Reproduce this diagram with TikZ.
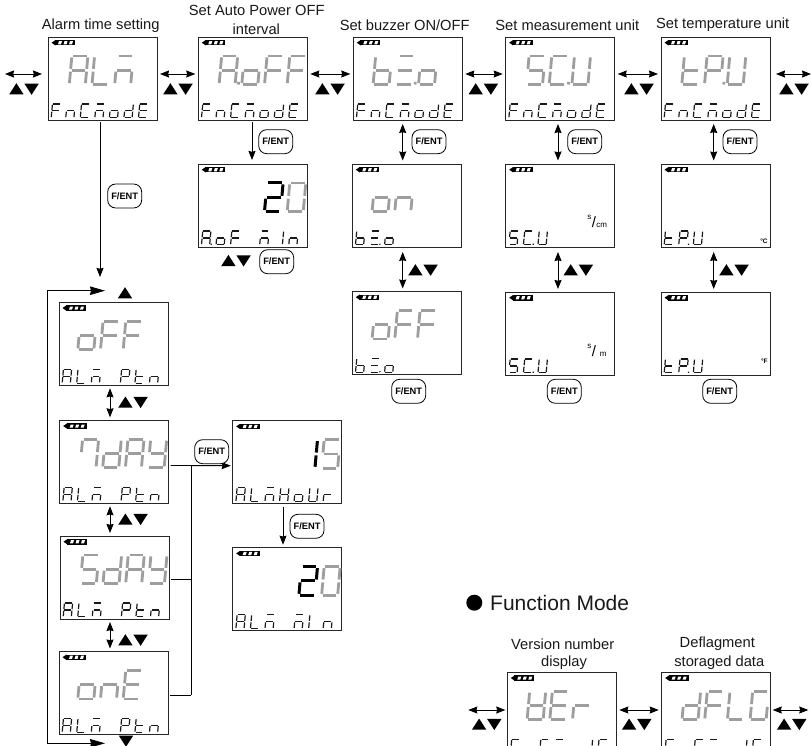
\documentclass[tikz,border=0pt]{standalone}
\usepackage{fontspec}
\setmainfont{Liberation Sans}
\usetikzlibrary{arrows.meta}
% seven-segment definitions
\newcommand{\defseg}[5]{\expandafter\def\csname seg-#1\endcsname{{#2}{#3}{#4}{#5}}}
\defseg{a}{.08}{0}{.92}{0}
\defseg{b}{1}{.05}{1}{.45}
\defseg{c}{1}{.55}{1}{.95}
\defseg{d}{.08}{1}{.92}{1}
\defseg{e}{0}{.55}{0}{.95}
\defseg{f}{0}{.05}{0}{.45}
\defseg{g}{.08}{.5}{.92}{.5}
\defseg{p}{1.2}{.91}{1.2}{1}
\defseg{x}{0}{0}{0}{0}
\newcommand{\defch}[2]{\expandafter\def\csname ch-#1\endcsname{#2}\expandafter\def\csname ch-#1.\endcsname{#2,p}}
\defch{A}{a,b,c,e,f,g}\defch{L}{d,e,f}\defch{M}{a,c,e,g}\defch{o}{c,d,e,g}\defch{F}{a,e,f,g}
\defch{b}{c,d,e,f,g}\defch{X}{a,d,g}\defch{S}{a,c,d,f,g}\defch{C}{a,d,e,f}\defch{U}{b,c,d,e,f}
\defch{t}{d,e,f,g}\defch{P}{a,b,e,f,g}\defch{n}{c,e,g}\defch{E}{a,d,e,f,g}\defch{d}{b,c,d,e,g}
\defch{7}{a,b,c,f}\defch{Y}{b,c,d,f,g}\defch{2}{a,b,d,e,g}\defch{0}{a,b,c,d,e,f}\defch{1}{b,c}
\defch{l}{e,f}\defch{H}{b,c,e,f,g}\defch{r}{e,g}\defch{V}{b,c,d,e,f,g}\defch{G}{a,c,d,e,f}\defch{x}{x}
\newcommand{\drawseg}[4]{\draw[\segstyle]
  ({\ox+(#1)*\wb+(1-(#2))*\sl},{\oy+(#2)*\hh}) -- ({\ox+(#3)*\wb+(1-(#4))*\sl},{\oy+(#4)*\hh});}
% #1 x, #2 y, #3 pitch, #4 width, #5 height, #6 style, #7 list
\newcommand{\segtext}[7]{%
  \def\segstyle{#6}\pgfmathsetmacro\sl{0.09*#5}\pgfmathsetmacro\wb{#4-\sl}\def\hh{#5}\def\oy{#2}%
  \foreach \chr [count=\ci from 0] in {#7}{%
    \pgfmathsetmacro\ox{#1+\ci*#3}%
    \edef\seglist{\csname ch-\chr\endcsname}%
    \foreach \sname in \seglist {%
      \expandafter\expandafter\expandafter\drawseg\csname seg-\sname\endcsname}%
  }}
\newcommand{\battery}[2]{%
  \fill[black] ({#1+7},{#2+3}) rectangle ({#1+27},{#2+8.5});
  \fill[black] ({#1+3.5},{#2+5.7}) -- ({#1+7.5},{#2+3}) -- ({#1+7.5},{#2+8.5}) -- cycle;
  \foreach \bi in {0,1,2}{\fill[white] ({#1+10+\bi*5.5},{#2+7.3}) -- ({#1+11+\bi*5.5},{#2+4.2}) -- ({#1+14+\bi*5.5},{#2+4.2}) -- ({#1+13+\bi*5.5},{#2+7.3}) -- cycle;}}
% #1 name #2 x #3 y
\newcommand{\lcdbox}[3]{\node[lcdframe,anchor=north west] (#1) at (#2,#3) {};\battery{#2}{#3}}
\newcommand{\bigseg}[5][biggray]{\segtext{#2+#4+0.8}{#3+19}{22.7}{18.6}{28.5}{#1}{#5}}
\newcommand{\lowseg}[3]{\segtext{#1+3.2}{#2+67}{14.55}{9.4}{13.8}{lowseg}{#3}}
\newcommand{\updn}[2]{\tup{#1-7.6}{#2}\tdn{#1+7.6}{#2}}
\newcommand{\tup}[2]{\fill[black] ({#1},{#2-5.8}) -- ({#1+7.2},{#2+5.4}) -- ({#1-7.2},{#2+5.4}) -- cycle;}
\newcommand{\tdn}[2]{\fill[black] ({#1},{#2+5.8}) -- ({#1+7.2},{#2-5.4}) -- ({#1-7.2},{#2-5.4}) -- cycle;}
\tikzset{
  lcdframe/.style={draw=black!85,line width=0.9pt,fill=white,rectangle,inner sep=0pt,outer sep=0pt,minimum width=109pt,minimum height=83pt},
  biggray/.style={draw=black!38,line width=2.8pt},
  bigblack/.style={draw=black,line width=3pt},
  lowseg/.style={draw=black!90,line width=1.2pt},
  btn/.style={draw=black,line width=0.8pt,rounded corners=8pt,minimum width=34pt,minimum height=24pt,inner sep=0pt,fill=white,font=\fontsize{9.3}{11}\selectfont\bfseries},
  lbl/.style={font=\fontsize{14.7}{17}\selectfont,inner sep=0pt,text=black!90},
  unit/.style={font=\fontsize{8}{9}\selectfont,inner sep=0pt},
  conn/.style={draw=black,line width=0.85pt},
  one/.style={conn,-{Stealth[length=9pt,width=7pt,inset=0.8pt]}},
  dbl/.style={conn,{Stealth[length=9pt,width=7pt,inset=0.8pt]}-{Stealth[length=9pt,width=7pt,inset=0.8pt]}},
  bigdbl/.style={conn,{Stealth[length=15pt,width=8.5pt,inset=1pt]}-{Stealth[length=15pt,width=8.5pt,inset=1pt]}},
  gap/.style={shorten <=3pt,shorten >=3pt}
}
\begin{document}
\begin{tikzpicture}[x=1pt,y=-1pt]
\clip (0,0) rectangle (811,746);
\fill[white] (0,0) rectangle (811,746);
% boxes
\lcdbox{ba}{48}{37}\lcdbox{bb}{198.3}{37}\lcdbox{bc}{353.3}{37}\lcdbox{bd}{505.7}{37}\lcdbox{be}{661}{37}
\lcdbox{bbb}{198.3}{164}\lcdbox{bcb}{352.3}{164}\lcdbox{bdb}{505.7}{164}\lcdbox{beb}{661}{164}
\lcdbox{bcc}{352.3}{291.5}\lcdbox{bdc}{505.7}{292}\lcdbox{bec}{661}{292}
\lcdbox{aoff}{59}{302.3}\lcdbox{asev}{59.7}{420.3}\lcdbox{afive}{60}{536}\lcdbox{aone}{59}{651.5}
\lcdbox{ahour}{232.7}{420.7}\lcdbox{amin}{232.7}{547.7}
\lcdbox{fver}{507.3}{672.3}\lcdbox{fdfl}{661.7}{672.3}
% big digits
\bigseg{48}{37}{20.5}{A,L,M}
\bigseg{198.3}{37}{20}{A.,o,F,F}
\bigseg{353.3}{37}{19}{b,X.,o}
\bigseg{505.7}{37}{20}{S,C.,U}
\bigseg{661}{37}{20}{t,P.,U}
\bigseg[bigblack]{198.3}{164}{20}{x,x,2,x}
\bigseg{198.3}{164}{20}{x,x,x,0}
\bigseg{352.3}{164}{19}{o,n}
\bigseg{352.3}{291.5}{19}{o,F,F}
\bigseg{59}{302.3}{18}{o,F,F}
\bigseg{59.7}{420.3}{19.5}{7,d,A,Y}
\bigseg{60}{536}{19.5}{S,d,A,Y}
\bigseg{59}{651.5}{18}{o,n,E}
\bigseg[bigblack]{232.7}{420.7}{20}{x,x,1,x}
\bigseg{232.7}{420.7}{20}{x,x,x,S}
\bigseg[bigblack]{232.7}{547.7}{20}{x,x,2,x}
\bigseg{232.7}{547.7}{20}{x,x,x,0}
\bigseg{507.3}{672.3}{19}{V,E,r}
\bigseg{661.7}{672.3}{19.5}{d,F,L,G}
% low text
\lowseg{48}{37}{F,n,C,M,o,d,E}
\lowseg{198.3}{37}{F,n,C,M,o,d,E}
\lowseg{353.3}{37}{F,n,C,M,o,d,E}
\lowseg{505.7}{37}{F,n,C,M,o,d,E}
\lowseg{661}{37}{F,n,C,M,o,d,E}
\lowseg{198.3}{164}{A.,o,F,x,M,1,n}
\lowseg{352.3}{164}{b,X.,o}
\lowseg{505.7}{164}{S,C.,U}
\lowseg{661}{164}{t,P.,U}
\lowseg{352.3}{291.5}{b,X.,o}
\lowseg{505.7}{292}{S,C.,U}
\lowseg{661}{292}{t,P.,U}
\lowseg{59}{302.3}{A,L,M,x,P,t,n}
\lowseg{59.7}{420.3}{A,L,M,x,P,t,n}
\lowseg{60}{536}{A,L,M,x,P,t,n}
\lowseg{59}{651.5}{A,L,M,x,P,t,n}
\lowseg{232.7}{420.7}{A,L,M,H,o,U,r}
\lowseg{232.7}{547.7}{A,L,M,x,M,l,n}
\lowseg{507.3}{672.3}{F,n,C,M,o,d,E}
\lowseg{661.7}{672.3}{F,n,C,M,o,d,E}
% titles
\node[lbl] (t1) at (100.7,25.5) {Alarm time setting};
\node[lbl] (t2a) at (256.7,10) {Set Auto Power OFF};
\node[lbl] (t2b) at (256.3,29) {interval};
\node[lbl] (t3) at (404.7,25) {Set buzzer ON/OFF};
\node[lbl] (t4) at (567.3,25) {Set measurement unit};
\node[lbl] (t5) at (722.7,25) {Set temperature unit};
\node[lbl] (t6a) at (562.7,644) {Version number};
\node[lbl] (t6b) at (564,662.7) {display};
\node[lbl] (t7a) at (717.3,644) {Deflagment};
\node[lbl] (t7b) at (719.3,662.7) {storaged data};
\fill[black] (474.3,602.7) circle (8);
\node[lbl,font=\fontsize{21}{24}\selectfont,anchor=west] (fm) at (490,603) {Function Mode};
% units
\node[unit] (us1) at (589.3,217) {s};
\node[unit,font=\fontsize{15}{15}\selectfont] (us2) at (594,222) {/};
\node[unit] (us3) at (601.7,225.7) {cm};
\node[unit] (um1) at (589.3,346.7) {s};
\node[unit,font=\fontsize{15}{15}\selectfont] (um2) at (594,351) {/};
\node[unit] (um3) at (603.3,354) {m};
\node[unit,font=\fontsize{6.5}{7}\selectfont\bfseries] (uc) at (764,241.7) {°C};
\node[unit,font=\fontsize{6.5}{7}\selectfont\bfseries] (uf) at (764.3,361.7) {°F};
% free ends
\coordinate (leftA) at (5,74);\coordinate (rightA) at (811,74);
\coordinate (leftF) at (468.3,710);\coordinate (rightF) at (808.3,710);
\coordinate (entry) at (100,277);
\coordinate (loopT) at (105,290.7);\coordinate (loopB) at (105,743.3);
\coordinate (loopTL) at (47.7,290.7);\coordinate (loopBL) at (47.7,743.3);
\coordinate (busT) at (191,465.7);\coordinate (busM) at (191,579.7);\coordinate (busB) at (191,695.3);
% horizontal row arrows
\draw[dbl,shorten >=6pt] (leftA) -- ([yshift=4.5pt]ba.west);
\draw[dbl,gap] ([yshift=4.5pt]ba.east) -- ([yshift=4.5pt]bb.west);
\draw[dbl,gap] ([yshift=4.5pt]bb.east) -- ([yshift=4.5pt]bc.west);
\draw[dbl,gap] ([yshift=4.5pt]bc.east) -- ([yshift=4.5pt]bd.west);
\draw[dbl,gap] ([yshift=4.5pt]bd.east) -- ([yshift=4.5pt]be.west);
\draw[dbl,shorten <=6pt] ([yshift=4.5pt]be.east) -- (rightA);
\draw[dbl,shorten >=2pt] (leftF) -- (fver.north west |- leftF);
\draw[dbl,gap] (fver.north east |- leftF) -- (fdfl.north west |- leftF);
\draw[dbl,shorten <=2pt] (fdfl.north east |- rightF) -- (rightF);
% vertical arrows
\draw[one,shorten <=2pt] ([xshift=-2.5pt]ba.south) -- (entry);
\draw[one,shorten <=2pt,shorten >=4pt] ([xshift=-0.8pt]bb.south) -- ([xshift=-0.8pt]bbb.north);
\draw[dbl,shorten <=4pt,shorten >=3.5pt] ([xshift=-5.1pt]bc.south) -- ([xshift=-4.1pt]bcb.north);
\draw[dbl,shorten <=4pt,shorten >=3.5pt] ([xshift=-2.2pt]bd.south) -- ([xshift=-2.2pt]bdb.north);
\draw[dbl,shorten <=4pt,shorten >=3.5pt] ([xshift=-1.8pt]be.south) -- ([xshift=-1.8pt]beb.north);
\draw[dbl,gap,shorten <=5pt] ([xshift=-4.1pt]bcb.south) -- ([xshift=-4.1pt]bcc.north);
\draw[dbl,gap,shorten <=5pt] ([xshift=-2.2pt]bdb.south) -- ([xshift=-2.2pt]bdc.north);
\draw[dbl,gap,shorten <=5pt] ([xshift=-1.8pt]beb.south) -- ([xshift=-1.8pt]bec.north);
\draw[dbl,gap] ([xshift=-3.5pt]aoff.south) -- ([xshift=-4.2pt]asev.north);
\draw[dbl,gap] ([xshift=-4.2pt]asev.south) -- ([xshift=-4.5pt]afive.north);
\draw[dbl,gap] ([xshift=-4.5pt]afive.south) -- ([xshift=-3.5pt]aone.north);
\draw[one,shorten <=3pt,shorten >=3pt] ([xshift=-4.2pt]ahour.south) -- ([xshift=-4.2pt]amin.north);
% alarm connectors
\draw[one,shorten <=2pt,shorten >=2pt] ([yshift=-3.7pt]asev.east) -- ([yshift=-3.5pt]ahour.west);
\draw[conn,shorten <=2pt] ([yshift=-2.2pt]afive.east) -- (busM);
\draw[conn,shorten <=2pt] ([yshift=-2.3pt]aone.east) -- (busB);
\draw[conn] (busT) -- (busB);
\draw[bigdbl] (loopB) -- (loopBL) -- (loopTL) -- (loopT);
% triangles
\updn{24}{89}\updn{178}{89}\updn{330}{89}\updn{483.3}{89}\updn{639}{89}\updn{794}{89}
\updn{486.7}{724.3}\updn{636.7}{724.3}\updn{791.7}{724.3}
\updn{133}{402.3}\updn{133}{519.3}\updn{133}{640}
\updn{423}{270}\updn{578.3}{270}\updn{734}{270}
\updn{236}{260.7}
\tup{125}{293}\tdn{126}{741}
% F/ENT buttons
\node[btn] (k1) at (124.7,196) {F/ENT};
\node[btn] (k2) at (275.7,141.7) {F/ENT};
\node[btn] (k3) at (276.7,261.7) {F/ENT};
\node[btn] (k4) at (429,141.7) {F/ENT};
\node[btn] (k5) at (584.7,141.7) {F/ENT};
\node[btn] (k6) at (740,141.7) {F/ENT};
\node[btn] (k7) at (408.7,391.3) {F/ENT};
\node[btn] (k8) at (564.3,391.3) {F/ENT};
\node[btn] (k9) at (719.7,391.3) {F/ENT};
\node[btn] (k10) at (211.7,451.7) {F/ENT};
\node[btn] (k11) at (307,526.3) {F/ENT};
\end{tikzpicture}
\end{document}
